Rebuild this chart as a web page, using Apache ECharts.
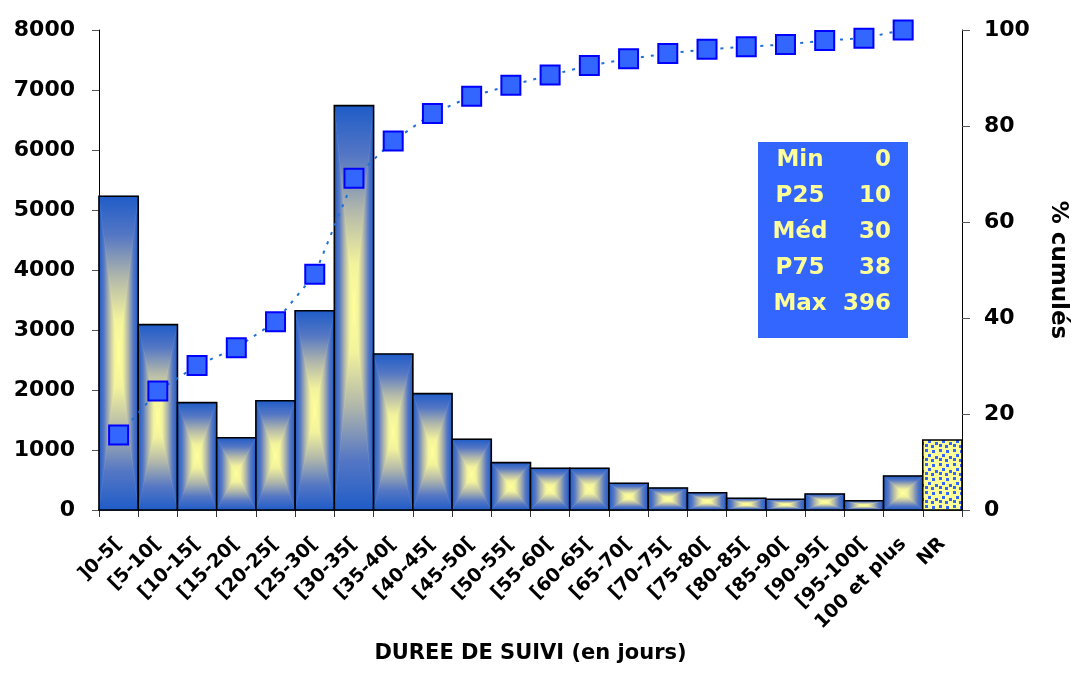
<!DOCTYPE html>
<html>
<head>
<meta charset="utf-8">
<script src="https://cdn.jsdelivr.net/npm/echarts@6/dist/echarts.min.js"></script>
<style>
    html, body {margin: 0; padding: 0; background: #fff;}
    #chart {width: 1077px; height: 673px;}
</style>
</head>
<body>
<div id="chart"></div>
<script>
// classes de durée de suivi
const categories = [']0-5[', '[5-10[', '[10-15[', '[15-20[', '[20-25[', '[25-30[', '[30-35[', '[35-40[',
    '[40-45[', '[45-50[', '[50-55[', '[55-60[', '[60-65[', '[65-70[', '[70-75[', '[75-80[', '[80-85[',
    '[85-90[', '[90-95[', '[95-100[', '100 et plus', 'NR'];
// effectifs
const counts = [5230, 3090, 1790, 1205, 1820, 3320, 6740, 2600, 1940, 1180, 790, 695, 695, 445,
    367, 288, 195, 178, 267, 155, 567, 1167];
// % cumulés (pas de point pour NR)
const cumPct = [15.6, 24.8, 30.1, 33.8, 39.2, 49.1, 69.1, 76.9, 82.6, 86.2, 88.5, 90.6, 92.6, 94.0,
    95.1, 96.0, 96.5, 97.0, 97.8, 98.3, 100, null];
const leftTicks = {min: 0, max: 8000, interval: 1000};
const rightTicks = {min: 0, max: 100, interval: 20};
// encadré des statistiques
const statNames = ['Min', 'P25', 'Méd', 'P75', 'Max'];
const statValues = ['0', '10', '30', '38', '396'];

const FONT = '"DejaVu Sans", sans-serif';

const chart = echarts.init(document.getElementById('chart'));

// dégradé bleu -> jaune du bord vers le centre
const stops = [
    {offset: 0, color: '#1f5cc8'},
    {offset: 0.25, color: '#5577c4'},
    {offset: 0.52, color: '#b2b8aa'},
    {offset: 0.78, color: '#f2f29c'},
    {offset: 1, color: '#ffff99'}
];
const grad = (x, y, x2, y2) => ({type: 'linear', x, y, x2, y2, global: true, colorStops: stops});

// motif pointillé pour NR
function makeDots() {
    const c = document.createElement('canvas');
    c.width = 14;
    c.height = 14;
    const ctx = c.getContext('2d');
    ctx.fillStyle = '#ffff99';
    ctx.fillRect(0, 0, 14, 14);
    ctx.fillStyle = '#3366ff';
    [[1, 1], [8, 2], [4, 6], [11, 8], [1, 10], [7, 11]].forEach(p => ctx.fillRect(p[0], p[1], 3, 3));
    return c;
}
const dotPattern = {image: makeDots(), repeat: 'repeat'};

function renderBar(params, api) {
    const idx = api.value(0);
    const base = api.coord([idx, 0]);
    const top = api.coord([idx, api.value(1)]);
    const bw = api.size([1, 0])[0];
    const x0 = base[0] - bw / 2, x1 = base[0] + bw / 2;
    const y0 = top[1], y1 = base[1];
    const cx = base[0], cy = (y0 + y1) / 2;
    const children = [];
    if (categories[idx] === 'NR') {
        children.push({type: 'rect', shape: {x: x0, y: y0, width: bw, height: y1 - y0},
            style: {fill: dotPattern}});
    } else {
        const tri = (pts, fill) => ({type: 'polygon', shape: {points: pts},
            style: {fill, stroke: fill, lineWidth: 0.6}});
        children.push(tri([[x0, y0], [x0, y1], [cx, cy]], grad(x0, cy, cx, cy)));
        children.push(tri([[x1, y0], [x1, y1], [cx, cy]], grad(x1, cy, cx, cy)));
        children.push(tri([[x0, y0], [x1, y0], [cx, cy]], grad(cx, y0, cx, cy)));
        children.push(tri([[x0, y1], [x1, y1], [cx, cy]], grad(cx, y1, cx, cy)));
    }
    children.push({type: 'rect', shape: {x: x0, y: y0, width: bw, height: y1 - y0},
        style: {fill: null, stroke: '#000', lineWidth: 1.6}});
    return {type: 'group', children};
}

const boxX = 758, boxY = 142, boxW = 150, boxH = 196;

const option = {
    animation: false,
    grid: {left: 99, right: 113, top: 30, bottom: 163},
    xAxis: {
        type: 'category',
        data: categories,
        boundaryGap: true,
        name: 'DUREE DE SUIVI (en jours)',
        nameLocation: 'middle',
        nameGap: 133,
        nameTextStyle: {fontFamily: FONT, fontWeight: 'bold', fontSize: 21, color: '#000'},
        axisLine: {lineStyle: {color: '#000', width: 1.5}},
        axisTick: {show: true, length: 7, lineStyle: {color: '#333'}},
        axisLabel: {rotate: 45, interval: 0, margin: 31, fontFamily: FONT, fontWeight: 'bold',
            fontSize: 19, color: '#000'}
    },
    yAxis: [{
        type: 'value',
        min: leftTicks.min, max: leftTicks.max, interval: leftTicks.interval,
        axisLine: {show: true, lineStyle: {color: '#000', width: 1}},
        axisTick: {show: true, length: 7, lineStyle: {color: '#555'}},
        splitLine: {show: false},
        axisLabel: {margin: 24, fontFamily: FONT, fontWeight: 'bold', fontSize: 22, color: '#000',
            formatter: v => String(v)}
    }, {
        type: 'value',
        position: 'right',
        min: rightTicks.min, max: rightTicks.max, interval: rightTicks.interval,
        name: '% cumulés',
        nameLocation: 'middle',
        nameRotate: -90,
        nameGap: 84,
        nameTextStyle: {fontFamily: FONT, fontWeight: 'bold', fontSize: 23, color: '#000'},
        axisLine: {show: true, lineStyle: {color: '#000', width: 1}},
        axisTick: {show: true, length: 8, lineStyle: {color: '#555'}},
        splitLine: {show: false},
        axisLabel: {margin: 22, fontFamily: FONT, fontWeight: 'bold', fontSize: 22, color: '#000'}
    }],
    series: [{
        type: 'custom',
        renderItem: renderBar,
        encode: {x: 0, y: 1},
        data: counts.map((v, i) => [i, v]),
        z: 2
    }, {
        type: 'line',
        yAxisIndex: 1,
        data: cumPct,
        symbol: 'rect',
        symbolSize: 19,
        connectNulls: false,
        lineStyle: {color: '#1f6fd8', width: 2, type: [3, 7]},
        itemStyle: {color: '#3366ff', borderColor: '#0000ff', borderWidth: 2},
        z: 5
    }],
    graphic: [{
        type: 'group',
        left: boxX,
        top: boxY,
        children: [{
            type: 'rect',
            shape: {x: 0, y: 0, width: boxW, height: boxH},
            style: {fill: '#3366ff'}
        }].concat(statNames.map((n, i) => ({
            type: 'text',
            x: 42, y: 18 + i * 36,
            style: {text: n, fill: '#ffff99', font: 'bold 23px ' + FONT, align: 'center', verticalAlign: 'middle'}
        }))).concat(statValues.map((v, i) => ({
            type: 'text',
            x: 133, y: 18 + i * 36,
            style: {text: v, fill: '#ffff99', font: 'bold 23px ' + FONT, align: 'right', verticalAlign: 'middle'}
        })))
    }]
};

chart.setOption(option);
</script>
</body>
</html>
